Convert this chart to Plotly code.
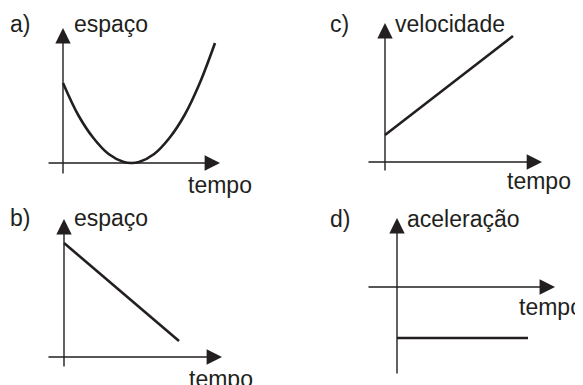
"""
Four kinematics sketches (espaço / velocidade / aceleração vs tempo),
drawn as bare arrowed axes with one curve each.
"""

import plotly.graph_objects as go

W, H = 583, 385
PAGE = 8          # the browser's default body margin shifts the figure by this
INK = "#231f20"
FONT = "Liberation Sans, Arial, sans-serif"

# ---- data (arbitrary units) ----
a_tempo  = [0, 1, 2, 3, 4, 4.5, 5, 6, 7, 8, 9, 10]
a_espaco = [8.0, 4.8, 2.5, 0.9, 0.1, 0.0, 0.1, 0.9, 2.5, 4.8, 8.0, 12.0]

b_tempo  = [0, 10]
b_espaco = [11.4, 1.6]

c_tempo      = [0, 10]
c_velocidade = [2.7, 12.6]

d_tempo      = [0, 10]
d_aceleracao = [-5.1, -5.1]

# ---- panel geometry: origin pixel, px per unit, axis extents (units) ----
panels = [
    dict(key="a", t=a_tempo, y=a_espaco, shape="spline",
         origin=(63, 163), scale=(15.2, 10), xext=(-1.05, 10.33), yext=(-1.2, 13.5),
         ylabel="espaço", letter_xy=(8, 24), ylabel_xy=(72, 24), tlabel_xy=(186, 185)),
    dict(key="b", t=b_tempo, y=b_espaco, shape="linear",
         origin=(64, 357), scale=(11.5, 10), xext=(-1.48, 13.74), yext=(-1.1, 13.8),
         ylabel="espaço", letter_xy=(8, 218), ylabel_xy=(72, 218), tlabel_xy=(187, 379)),
    dict(key="c", t=c_tempo, y=c_velocidade, shape="linear",
         origin=(385, 162), scale=(12.8, 10), xext=(-1.41, 12.27), yext=(-1.0, 13.9),
         ylabel="velocidade", letter_xy=(328, 24), ylabel_xy=(393, 24), tlabel_xy=(505, 181)),
    dict(key="d", t=d_tempo, y=d_aceleracao, shape="linear",
         origin=(397, 287), scale=(13.1, 10), xext=(-2.29, 12.06), yext=(-8.8, 6.9),
         ylabel="aceleração", letter_xy=(328, 219), ylabel_xy=(405, 219), tlabel_xy=(517, 307)),
]


def px(x, y):
    """Window pixel -> paper fraction, allowing for the page margin."""
    return (x - PAGE) / W, 1 - (y - PAGE) / H


fig = go.Figure()
annotations = []

for i, p in enumerate(panels, start=1):
    xa, ya = f"x{i}", f"y{i}"
    ox, oy = p["origin"][0] - PAGE, p["origin"][1] - PAGE
    sx, sy = p["scale"]

    fig.add_trace(go.Scatter(
        x=p["t"], y=p["y"], mode="lines",
        line=dict(color=INK, width=2.6, shape=p["shape"], smoothing=1.0),
        xaxis=xa, yaxis=ya, hoverinfo="skip", showlegend=False,
    ))

    hidden = dict(visible=False, fixedrange=True, domain=[0, 1])
    fig.update_layout(**{
        f"xaxis{i}": dict(hidden, range=[-ox / sx, (W - ox) / sx], anchor=ya),
        f"yaxis{i}": dict(hidden, range=[-(H - oy) / sy, oy / sy], anchor=xa),
    })

    arrow = dict(xref=xa, yref=ya, axref=xa, ayref=ya, text="", showarrow=True,
                 arrowhead=2, arrowsize=2.2, arrowwidth=1.4, arrowcolor=INK, standoff=0)
    x0, x1 = p["xext"]
    y0, y1 = p["yext"]
    annotations.append(dict(arrow, x=x1, y=0, ax=x0, ay=0))
    annotations.append(dict(arrow, x=0, y=y1, ax=0, ay=y0))

    for text, (tx, ty) in [(p["key"] + ")", p["letter_xy"]),
                           (p["ylabel"], p["ylabel_xy"]),
                           ("tempo", p["tlabel_xy"])]:
        fx, fy = px(tx, ty)
        annotations.append(dict(
            xref="paper", yref="paper", x=fx, y=fy, text=text, showarrow=False,
            xanchor="left", yanchor="middle",
            font=dict(family=FONT, size=23, color=INK),
        ))

fig.update_layout(
    width=W, height=H,
    margin=dict(l=0, r=0, t=0, b=0),
    paper_bgcolor="white", plot_bgcolor="rgba(0,0,0,0)",
    annotations=annotations,
)

fig.write_html("out.html")
